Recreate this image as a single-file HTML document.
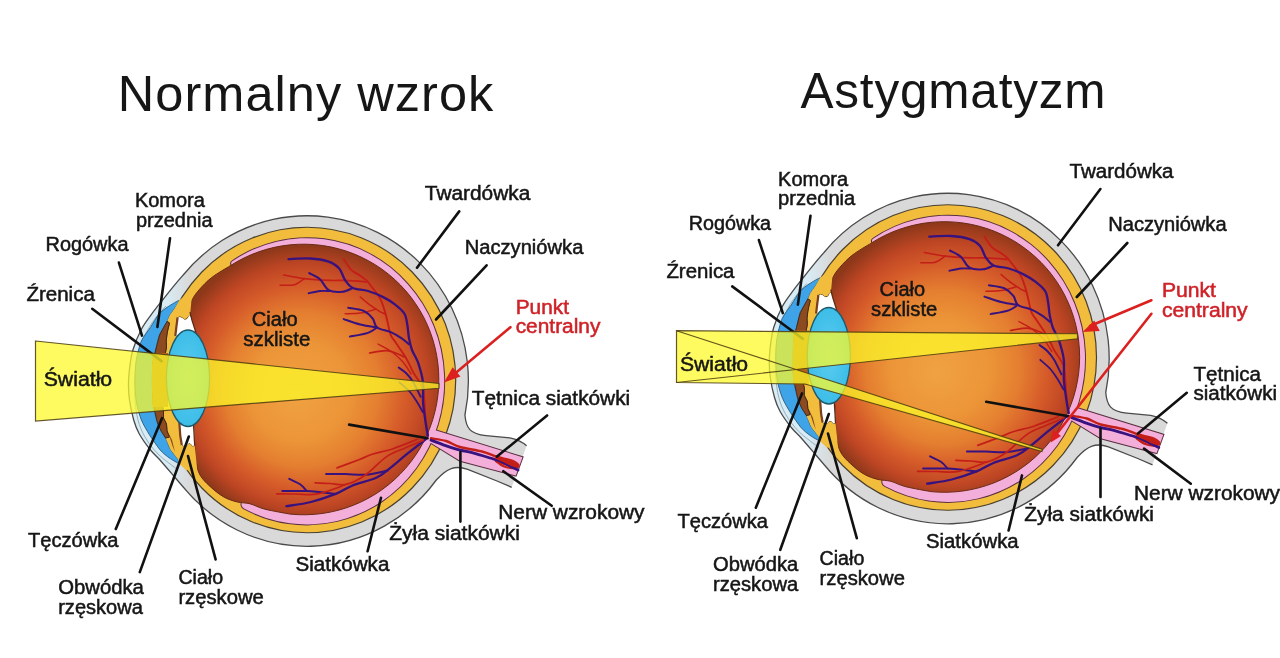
<!DOCTYPE html>
<html><head><meta charset="utf-8">
<style>
html,body{margin:0;padding:0;background:#fff;width:1280px;height:658px;overflow:hidden}
svg{display:block;will-change:transform}
text{font-family:"Liberation Sans",sans-serif;fill:#161616;stroke:#161616;stroke-width:0.5px}
</style></head><body>
<svg width="1280" height="658" viewBox="0 0 1280 658">
<defs>
<radialGradient id="vit" gradientUnits="userSpaceOnUse" cx="308" cy="385" r="140" fx="295" fy="395">
<stop offset="0" stop-color="#f0a242"/>
<stop offset="0.35" stop-color="#ec9538"/>
<stop offset="0.55" stop-color="#e47e30"/>
<stop offset="0.72" stop-color="#d65c2a"/>
<stop offset="0.87" stop-color="#bf4624"/>
<stop offset="1" stop-color="#8e381a"/>
</radialGradient>
<linearGradient id="corneag" gradientUnits="userSpaceOnUse" x1="190" y1="0" x2="166" y2="0"><stop offset="0" stop-color="#d9d9d9"/><stop offset="1" stop-color="#d8ecf5"/></linearGradient>
<radialGradient id="lensg" gradientUnits="objectBoundingBox" cx="0.5" cy="0.5" r="0.5">
<stop offset="0" stop-color="#5ccdf0"/>
<stop offset="1" stop-color="#3cbde8"/>
</radialGradient>

<g id="eye">
<path d="M511.7 487.3 L497 481 L467.7 469.3 C455 465 447 468 436.3 480 A161.4 165.3 0 0 1 183.2 487 C181.4 484.9 176.2 478.8 172.4 474.3 C168.6 469.9 163.8 464.4 160.2 460.3 C156.5 456.2 154.0 454.4 150.5 450.0 C147.0 445.6 142.0 438.7 139.2 433.7 C136.4 428.7 135.3 425.6 133.7 420.0 C132.1 414.4 130.4 406.2 129.5 400.0 C128.6 393.8 128.4 388.8 128.5 383.0 C128.6 377.2 129.3 370.5 130.0 365.0 C130.7 359.5 131.0 356.0 132.9 350.0 C134.8 344.0 138.2 335.2 141.4 329.2 C144.6 323.2 148.3 318.7 151.8 313.9 C155.3 309.1 158.4 305.3 162.2 300.5 C165.9 295.7 170.8 289.6 174.3 285.3 C177.8 281.1 181.7 276.7 183.2 275.0 A161.4 165.3 0 0 1 464.95 415 C466 428 470 434 486 435.6 L509.8 437.9 Q520 440 526.6 445.8 Z" fill="url(#corneag)"/>
<path d="M511.7 487.3 L497 481 L467.7 469.3 C455 465 447 468 436.3 480 A161.4 165.3 0 0 1 183.2 487 C181.4 484.9 176.2 478.8 172.4 474.3 C168.6 469.9 163.8 464.4 160.2 460.3 C156.5 456.2 154.0 454.4 150.5 450.0 C147.0 445.6 142.0 438.7 139.2 433.7 C136.4 428.7 135.3 425.6 133.7 420.0 C132.1 414.4 130.4 406.2 129.5 400.0 C128.6 393.8 128.4 388.8 128.5 383.0 C128.6 377.2 129.3 370.5 130.0 365.0 C130.7 359.5 131.0 356.0 132.9 350.0 C134.8 344.0 138.2 335.2 141.4 329.2 C144.6 323.2 148.3 318.7 151.8 313.9 C155.3 309.1 158.4 305.3 162.2 300.5 C165.9 295.7 170.8 289.6 174.3 285.3 C177.8 281.1 181.7 276.7 183.2 275.0 A161.4 165.3 0 0 1 464.95 415 C466 428 470 434 486 435.6 L509.8 437.9 Q520 440 526.6 445.8" fill="none" stroke="#4a4a4a" stroke-width="1.3"/>
<path d="M178.0 470.0 C174.7 467.3 163.5 459.5 158.0 454.0 C152.5 448.5 148.3 442.7 145.0 437.0 C141.7 431.3 139.7 426.2 138.0 420.0 C136.3 413.8 135.6 406.2 135.0 400.0 C134.4 393.8 134.3 388.8 134.5 383.0 C134.7 377.2 135.2 370.5 136.0 365.0 C136.8 359.5 137.2 355.7 139.0 350.0 C140.8 344.3 144.0 336.7 147.0 331.0 C150.0 325.3 153.8 320.2 157.0 316.0 C160.2 311.8 164.5 307.7 166.0 306.0" fill="none" stroke="#8c9ca4" stroke-width="0.8"/>
<ellipse cx="307" cy="380" rx="148.7" ry="152.75" fill="#f2bd3c" stroke="#4a4030" stroke-width="1.2"/>
<path d="M232.68 261.01 A137.2 143.1 0 1 1 244.07 508.46 A4.80 4.80 0 0 1 248.33 499.86 L252.06 492.33 A119.19999999999999 125.1 0 1 0 242.14 276.33 L235.83 266.12 A3.00 3.00 0 0 1 232.68 261.01 Z" fill="#f4aeda" stroke="#5a3040" stroke-width="2"/>
<path d="M415 424 L522.5 457.2 L515.8 475.5 L460 460.7 L431 443 L415 438 Z" fill="#f4aeda" stroke="#5a3040" stroke-width="2"/>
<path d="M232.68 261.01 A137.2 143.1 0 1 1 244.07 508.46 A4.80 4.80 0 0 1 248.33 499.86 L252.06 492.33 A119.19999999999999 125.1 0 1 0 242.14 276.33 L235.83 266.12 A3.00 3.00 0 0 1 232.68 261.01 Z" fill="#f4aeda"/>
<path d="M415 424 L522.5 457.2 L515.8 475.5 L460 460.7 L431 443 L415 438 Z" fill="#f4aeda"/>
<path d="M230 265.9 A135.3 135.3 0 1 1 290 514.1 C285.8 513.3 271.7 510.9 265.0 509.2 C258.3 507.5 254.6 505.0 250.0 503.8 C245.4 502.6 241.8 503.1 237.4 502.0 C233.0 500.9 228.3 499.5 223.7 496.9 C219.1 494.3 213.9 490.0 210.0 486.4 C206.1 482.8 202.3 479.1 200.0 475.0 C197.7 470.9 197.1 466.9 196.2 462.0 C195.3 457.1 195.1 451.7 194.7 445.6 C194.3 439.5 194.6 433.1 193.8 425.5 C193.0 417.9 190.9 407.6 190.0 400.0 C189.1 392.4 188.6 388.3 188.5 380.0 C188.4 371.7 189.0 358.0 189.5 350.0 C190.0 342.0 191.3 336.8 191.5 332.0 C191.7 327.2 190.8 324.5 190.5 321.1 C190.2 317.7 189.5 315.0 189.7 311.6 C189.9 308.2 190.1 304.2 191.7 300.6 C193.3 297.0 195.9 293.5 199.2 289.7 C202.5 285.9 206.5 281.6 211.6 277.6 C216.7 273.6 226.9 267.8 230.0 265.9 Z" fill="url(#vit)" stroke="#6a2a14" stroke-width="1"/>
<path d="M427.9 435.7 C427.5 432.5 426.2 424.0 425.4 416.3 C424.6 408.6 425.0 396.8 423.0 389.5 C421.0 382.2 416.1 377.8 413.3 372.5 C410.5 367.2 408.9 362.8 406.0 357.9 C403.1 353.0 398.7 347.1 396.2 343.3 C393.7 339.5 392.2 338.5 390.8 335.1 C389.4 331.7 388.8 327.1 387.8 323.0 C386.8 318.9 386.0 314.9 384.7 310.8 C383.4 306.7 382.2 302.4 380.2 298.6 C378.2 294.8 374.9 291.0 372.6 288.0 C370.3 285.0 368.5 282.4 366.5 280.4 C364.5 278.4 362.9 277.6 360.4 275.8 C357.9 274.0 354.1 272.6 351.3 269.8 C348.5 267.0 345.0 260.9 343.7 259.1" fill="none" stroke="#c41e18" stroke-width="1.9" stroke-linecap="round" stroke-linejoin="round"/>
<path d="M283.6 275.0 C287.1 275.6 296.6 277.7 304.3 278.6 C312.0 279.5 323.2 280.1 330.0 280.4 C336.8 280.7 339.1 280.1 345.2 280.4 C351.3 280.6 362.9 281.6 366.5 281.9" fill="none" stroke="#c41e18" stroke-width="1.7" stroke-linecap="round" stroke-linejoin="round"/>
<path d="M280.0 285.3 C282.4 285.2 290.6 285.8 294.6 284.7 C298.7 283.6 302.7 279.6 304.3 278.6" fill="none" stroke="#c41e18" stroke-width="1.5" stroke-linecap="round" stroke-linejoin="round"/>
<path d="M360.4 297.1 C361.9 298.4 366.5 302.4 369.5 304.7 C372.5 307.0 376.1 309.2 378.6 310.8 C381.1 312.4 383.7 313.5 384.7 314.0" fill="none" stroke="#c41e18" stroke-width="1.6" stroke-linecap="round" stroke-linejoin="round"/>
<path d="M345.2 313.8 C347.7 313.7 355.3 313.9 360.4 313.1 C365.5 312.4 373.1 309.9 375.6 309.3" fill="none" stroke="#c41e18" stroke-width="1.5" stroke-linecap="round" stroke-linejoin="round"/>
<path d="M369.5 353.0 C372.3 352.6 381.6 350.4 386.5 350.6 C391.4 350.8 395.8 353.1 398.7 354.2 C401.6 355.3 403.1 356.5 404.0 357.0" fill="none" stroke="#c41e18" stroke-width="1.6" stroke-linecap="round" stroke-linejoin="round"/>
<path d="M288.5 259.1 C292.1 259.0 303.7 258.1 310.4 258.5 C317.1 258.9 323.9 260.0 328.7 261.6 C333.5 263.2 336.4 265.1 339.1 268.2 C341.9 271.3 342.9 277.1 345.2 280.4 C347.5 283.7 349.0 286.2 352.8 288.0 C356.6 289.8 362.9 289.5 368.0 291.0 C373.1 292.5 378.6 294.8 383.2 297.1 C387.8 299.4 391.8 301.9 395.3 304.7 C398.9 307.5 402.5 310.2 404.5 313.8 C406.5 317.4 406.8 321.9 407.5 326.0 C408.2 330.1 408.2 334.1 409.0 338.1 C409.8 342.1 410.5 345.9 412.0 350.0 C413.5 354.1 416.3 357.3 418.1 362.7 C419.9 368.1 422.2 375.7 423.0 382.2 C423.8 388.7 422.6 395.2 423.0 401.7 C423.4 408.2 424.6 415.4 425.4 421.1 C426.2 426.8 427.5 433.3 427.9 435.7" fill="none" stroke="#38127e" stroke-width="2.3" stroke-linecap="round" stroke-linejoin="round"/>
<path d="M309.2 273.1 C311.0 274.1 316.8 276.4 320.0 279.2 C323.2 282.0 325.0 288.0 328.7 290.1 C332.4 292.2 338.2 292.2 342.2 291.8 C346.2 291.4 351.0 288.6 352.8 288.0" fill="none" stroke="#38127e" stroke-width="2.1" stroke-linecap="round" stroke-linejoin="round"/>
<path d="M308.6 293.2 C310.5 292.8 316.4 291.4 320.0 291.0 C323.6 290.6 328.3 291.0 330.0 291.0" fill="none" stroke="#38127e" stroke-width="1.9" stroke-linecap="round" stroke-linejoin="round"/>
<path d="M348.2 307.8 C350.7 308.3 359.3 309.0 363.4 310.8 C367.5 312.6 370.3 315.6 372.6 318.4 C374.9 321.2 374.1 325.2 377.1 327.5 C380.1 329.8 386.8 330.3 390.8 332.1 C394.9 333.9 398.4 336.1 401.4 338.1 C404.4 340.1 407.7 343.2 409.0 344.2" fill="none" stroke="#38127e" stroke-width="2.1" stroke-linecap="round" stroke-linejoin="round"/>
<path d="M343.7 319.1 C346.5 320.0 354.8 323.1 360.4 324.5 C366.0 325.9 374.3 327.0 377.1 327.5" fill="none" stroke="#38127e" stroke-width="1.9" stroke-linecap="round" stroke-linejoin="round"/>
<path d="M349.8 336.6 C352.8 336.0 363.4 334.3 368.0 332.8 C372.6 331.3 375.6 328.4 377.1 327.5" fill="none" stroke="#38127e" stroke-width="1.9" stroke-linecap="round" stroke-linejoin="round"/>
<path d="M398.7 367.6 C399.9 368.5 403.6 370.6 406.0 373.0 C408.4 375.4 410.9 378.2 413.3 382.2 C415.7 386.2 419.4 394.4 420.6 396.8" fill="none" stroke="#38127e" stroke-width="1.9" stroke-linecap="round" stroke-linejoin="round"/>
<path d="M399.5 382.3 C401.2 383.9 407.1 388.7 410.0 392.0 C412.9 395.3 414.9 398.7 417.0 402.0 C419.1 405.3 421.8 410.3 422.8 412.0" fill="none" stroke="#38127e" stroke-width="1.8" stroke-linecap="round" stroke-linejoin="round"/>
<path d="M378.0 344.0 C380.3 345.3 387.8 349.0 392.0 352.0 C396.2 355.0 399.8 358.3 403.0 362.0 C406.2 365.7 409.7 372.0 411.0 374.0" fill="none" stroke="#c41e18" stroke-width="1.4" stroke-linecap="round" stroke-linejoin="round"/>
<path d="M426.0 439.2 C422.8 441.7 412.7 449.4 406.8 454.2 C400.9 459.0 395.4 464.0 390.4 467.9 C385.4 471.8 383.1 474.5 376.7 477.5 C370.3 480.5 358.9 483.0 352.1 485.7 C345.3 488.4 342.6 491.2 335.7 493.9 C328.8 496.6 319.2 499.9 311.0 502.0 C302.8 504.1 290.5 505.5 286.4 506.2" fill="none" stroke="#38127e" stroke-width="2.3" stroke-linecap="round" stroke-linejoin="round"/>
<path d="M387.6 470.6 C384.0 471.3 372.9 474.1 365.8 474.7 C358.7 475.3 351.8 474.1 345.2 474.0 C338.6 473.9 329.3 474.0 326.1 474.0" fill="none" stroke="#38127e" stroke-width="2.0" stroke-linecap="round" stroke-linejoin="round"/>
<path d="M335.7 493.9 C330.9 493.4 315.8 491.6 306.9 491.1 C298.0 490.6 286.4 491.1 282.3 491.1" fill="none" stroke="#38127e" stroke-width="2.0" stroke-linecap="round" stroke-linejoin="round"/>
<path d="M306.9 491.1 C305.8 490.0 303.1 486.4 300.1 484.3 C297.2 482.2 291.0 479.7 289.2 478.8" fill="none" stroke="#38127e" stroke-width="1.9" stroke-linecap="round" stroke-linejoin="round"/>
<path d="M417.7 439.2 C413.6 440.8 400.6 446.2 393.1 448.7 C385.7 451.2 378.7 452.2 373.0 454.0 C367.3 455.8 364.9 457.4 358.9 459.7 C352.9 462.0 340.6 466.5 337.0 467.9" fill="none" stroke="#c41e18" stroke-width="1.7" stroke-linecap="round" stroke-linejoin="round"/>
<path d="M423.2 440.5 C420.2 441.8 411.1 445.3 405.0 448.0 C398.9 450.7 392.8 452.4 386.3 456.9 C379.8 461.3 372.4 470.1 365.8 474.7 C359.2 479.3 352.6 482.8 346.6 484.3 C340.6 485.8 335.2 483.7 330.0 483.5 C324.8 483.3 317.6 483.0 315.1 482.9" fill="none" stroke="#c41e18" stroke-width="1.7" stroke-linecap="round" stroke-linejoin="round"/>
<path d="M346.6 484.3 C341.8 485.9 326.3 492.3 317.9 493.9 C309.5 495.5 302.9 494.0 296.0 494.0 C289.1 494.0 280.0 493.9 276.8 493.9" fill="none" stroke="#c41e18" stroke-width="1.7" stroke-linecap="round" stroke-linejoin="round"/>
<path d="M496 458 C505 458 513 460 518.5 465.5 C513 469 503 466 496 461 Z" fill="#c41e18"/>
<path d="M431.0 438.3 C433.5 438.8 441.2 439.6 446.0 441.0 C450.8 442.4 454.0 445.2 460.0 447.0 C466.0 448.8 476.0 449.9 482.0 451.5 C488.0 453.1 492.2 455.2 496.0 456.5 C499.8 457.8 502.2 458.2 505.0 459.0 C507.8 459.8 510.8 459.9 513.0 461.0 C515.2 462.1 518.5 464.3 518.5 465.5 C518.5 466.7 515.6 467.9 513.0 468.0 C510.4 468.1 505.8 467.2 503.0 466.0 C500.2 464.8 497.2 461.8 496.0 461.0" fill="none" stroke="#c41e18" stroke-width="2.4" stroke-linecap="round" stroke-linejoin="round"/>
<path d="M431.0 440.2 C433.4 441.1 440.7 443.9 445.6 445.6 C450.5 447.3 455.6 449.0 460.2 450.2 C464.8 451.4 468.0 451.6 473.0 452.9 C478.0 454.2 485.5 456.6 490.0 458.0 C494.5 459.4 496.8 459.7 500.0 461.0 C503.2 462.3 506.4 464.2 509.4 465.7 C512.4 467.2 516.6 469.3 518.0 470.0" fill="none" stroke="#38127e" stroke-width="2.8" stroke-linecap="round" stroke-linejoin="round"/>
<path d="M496.0 458.0 C497.5 458.7 502.3 460.8 505.0 462.0 C507.7 463.2 509.8 464.7 512.0 465.5 C514.2 466.3 517.0 466.8 518.0 467.0" fill="none" stroke="#c41e18" stroke-width="1.8" stroke-linecap="round" stroke-linejoin="round"/>
<path d="M179.2 300.5 C178.4 300.2 170.9 304.8 168.2 306.6 C165.5 308.4 161.5 311.1 159.1 313.9 C156.7 316.7 152.8 323.9 150.4 327.5 C148.0 331.1 143.2 336.6 141.3 341.2 C139.4 345.8 136.8 356.4 136.0 362.0 C135.2 367.6 134.9 377.5 135.0 383.0 C135.1 388.5 135.6 398.1 136.5 403.0 C137.4 407.9 139.7 415.7 141.4 420.0 C143.1 424.3 147.1 431.0 149.6 435.0 C152.1 439.0 157.6 446.9 160.2 450.0 C162.8 453.1 166.8 456.1 169.3 457.9 C171.8 459.7 177.9 463.3 179.0 463.4 C180.1 463.5 178.9 460.9 177.8 459.0 C176.7 457.1 172.1 452.3 170.5 449.5 C168.9 446.7 167.3 441.5 165.6 438.0 C163.9 434.5 159.1 427.4 157.5 423.0 C155.9 418.6 154.2 410.3 153.5 405.0 C152.8 399.7 152.3 388.7 152.2 383.0 C152.1 377.3 152.5 366.4 153.0 362.0 C153.5 357.6 154.8 353.6 155.7 350.0 C156.6 346.4 158.0 338.9 159.5 335.1 C161.0 331.3 165.7 324.1 167.1 321.4 C168.5 318.7 169.0 316.7 170.0 315.0 C171.0 313.3 173.1 310.9 174.3 309.0 C175.5 307.1 180.0 300.8 179.2 300.5 Z" fill="#3fa3e8" stroke="#2d5a7a" stroke-width="0.9"/>
<g><path d="M152 382 L152.5 362 L155.7 350 L162 350 L168 360 L170 382 Z" fill="#b06a1c"/><path d="M179.2 300.5 L174.3 309 L170 315 L167.1 321.4 L169.5 323 L168 329 L167 334 L166.2 341 L166.5 347 L165 355 L162 366 L172 366 L175.5 336 L177.3 318 L179.6 316.9 Q182 317 184.2 319.6 Q187.5 320 188.8 316 L190 315 L190.5 311 L191.5 300 L195 292 L189 292 Z" fill="#f2bd3c"/><path d="M162 366 L165 355 L166.5 347 L166.2 341 L167 334 L168 329 L169.5 323 L167.1 321.4 M175.5 336 L177.3 318 L179.6 316.9 Q182 317 184.2 319.6 Q187.5 320 188.8 316 L190 315" fill="none" stroke="#3a2a18" stroke-width="0.9"/><path d="M167.1 321.4 L169.5 323 L168 329 L167 334 L166.2 341 L166.5 347 L165 355 L162 364 L152.5 364 L153 362 L155.7 350 L159.5 335.1 Z" fill="#8c4a20" stroke="#3a2010" stroke-width="0.8"/><path d="M177.3 318 L179.6 316.9 Q182 317 184.2 319.6 Q187.5 320 188.8 316 L190 315 L191.9 320 L197 336 L175.5 336 Z" fill="#fff"/><path d="M177.6 317.5 L176.5 326 L175.3 336" fill="none" stroke="#7a4020" stroke-width="2.2"/><path d="M190 312 L191.9 320 L197 336" fill="none" stroke="#5a2a14" stroke-width="1.2"/></g>
<g><path d="M152 382 L152.2 396 L160.5 396 L168 392 L170 382 Z" fill="#b06a1c"/><path d="M160.5 396 L161 402 L163.5 410 L163.5 418 L166.5 424 L167 431 L169.5 437 L165.6 438 L170.5 449.5 L177.8 459 L179 463.4 L186 470 L197 471 L196.5 462 L194.7 445.6 L192.5 446 Q190.5 442.5 188.5 443.5 Q186.5 447 184 446 L182 445 L180.5 436 L179.5 426 L172 410 L170 396 Z" fill="#f2bd3c"/><path d="M160.5 396 L161 402 L163.5 410 L163.5 418 L166.5 424 L167 431 L169.5 437 L165.6 438 M179.5 426 L180.5 436 L182 445 L184 446 Q186.5 447 188.5 443.5 Q190.5 442.5 192.5 446 L194.7 445.6" fill="none" stroke="#3a2a18" stroke-width="0.9"/><path d="M152.2 394 L153.5 405 L155.7 415 L157.5 423 L161 431 L165.6 438 L169.5 437 L167 431 L166.5 424 L163.5 418 L163.5 410 L161 402 L160.5 394 Z" fill="#8c4a20" stroke="#3a2010" stroke-width="0.8"/><path d="M168 432 L172 440 L175 452 L172.5 446 Z" fill="#8c4a20"/><path d="M179.5 422 L194 422 L194.7 445.6 L192.5 446 Q190.5 442.5 188.5 443.5 Q186.5 447 184 446 L182 445 L180.5 436 Z" fill="#fff"/><path d="M179.3 422 L180.3 436 L181.8 445" fill="none" stroke="#7a4020" stroke-width="2.2"/><path d="M193.5 425 L194.7 445.6" fill="none" stroke="#5a2a14" stroke-width="1.2"/></g>
<path d="M152.6 353 L168 353 L168 407 L152.4 407 Q151.8 380 152.6 353 Z" fill="#b3641a"/>
<ellipse cx="188" cy="378.25" rx="21.6" ry="48.25" fill="url(#lensg)" stroke="#1f5a6a" stroke-width="1.3"/>
</g>
</defs>
<rect width="1280" height="658" fill="#fff"/>
<text x="117.8" y="111" font-size="50.5" textLength="375.5" lengthAdjust="spacing" style="stroke-width:0">Normalny wzrok</text>
<text x="800.5" y="108" font-size="49.5" textLength="305" lengthAdjust="spacing" style="stroke-width:0">Astygmatyzm</text>
<use href="#eye"/>
<use href="#eye" transform="translate(640.8,-22.5)"/>
<line x1="170" y1="238.2" x2="157.4" y2="327" stroke="#111" stroke-width="2.6" stroke-linecap="round"/>
<line x1="118.9" y1="262.6" x2="142" y2="335.6" stroke="#111" stroke-width="2.6" stroke-linecap="round"/>
<line x1="92.2" y1="308.8" x2="161.5" y2="361.1" stroke="#111" stroke-width="2.6" stroke-linecap="round"/>
<line x1="115.8" y1="529" x2="162" y2="418.2" stroke="#111" stroke-width="2.6" stroke-linecap="round"/>
<line x1="139.8" y1="572.1" x2="188.8" y2="436.5" stroke="#111" stroke-width="2.6" stroke-linecap="round"/>
<line x1="215.6" y1="559.4" x2="188" y2="456" stroke="#111" stroke-width="2.6" stroke-linecap="round"/>
<line x1="349.1" y1="424.6" x2="427.6" y2="438.3" stroke="#111" stroke-width="2.6" stroke-linecap="round"/>
<line x1="459.2" y1="211.4" x2="417" y2="267.7" stroke="#111" stroke-width="2.6" stroke-linecap="round"/>
<line x1="486.6" y1="265.3" x2="436" y2="319.5" stroke="#111" stroke-width="2.6" stroke-linecap="round"/>
<line x1="547.1" y1="415.5" x2="497" y2="456.6" stroke="#111" stroke-width="2.6" stroke-linecap="round"/>
<line x1="551.7" y1="505.8" x2="503.3" y2="471.2" stroke="#111" stroke-width="2.6" stroke-linecap="round"/>
<line x1="460.4" y1="452" x2="460.4" y2="521.6" stroke="#111" stroke-width="2.6" stroke-linecap="round"/>
<line x1="367.6" y1="551.3" x2="381" y2="497.8" stroke="#111" stroke-width="2.6" stroke-linecap="round"/>
<polygon points="35.5,341 439,383.5 439,388.3 35.5,421" fill="rgb(252,250,40)" fill-opacity="0.74" stroke="#4a3a10" stroke-width="1.2" stroke-opacity="0.85"/>
<line x1="510.4" y1="327.2" x2="452" y2="376" stroke="#dc2020" stroke-width="2.6" stroke-linecap="round"/>
<polygon points="444,382.5 452.6,367.3 460.5,376.4" fill="#dc2020"/>
<text x="134.9" y="207.3" font-size="19.5" textLength="70" lengthAdjust="spacingAndGlyphs">Komora</text>
<text x="136" y="226.7" font-size="19.5" textLength="76.6" lengthAdjust="spacingAndGlyphs">przednia</text>
<text x="45.5" y="251.3" font-size="19.5" textLength="83" lengthAdjust="spacingAndGlyphs">Rogówka</text>
<text x="26.4" y="301.3" font-size="19.5" textLength="68.5" lengthAdjust="spacingAndGlyphs">Źrenica</text>
<text x="43.7" y="386" font-size="19.5" textLength="68.5" lengthAdjust="spacingAndGlyphs">Światło</text>
<text x="28.1" y="547.1" font-size="19.5" textLength="90.4" lengthAdjust="spacingAndGlyphs">Tęczówka</text>
<text x="58.2" y="593.9" font-size="19.5" textLength="85.7" lengthAdjust="spacingAndGlyphs">Obwódka</text>
<text x="58.2" y="614" font-size="19.5" textLength="84.7" lengthAdjust="spacingAndGlyphs">rzęskowa</text>
<text x="178.4" y="583.9" font-size="19.5" textLength="44.7" lengthAdjust="spacingAndGlyphs">Ciało</text>
<text x="178.4" y="603.6" font-size="19.5" textLength="85.4" lengthAdjust="spacingAndGlyphs">rzęskowe</text>
<text x="295.4" y="571.4" font-size="19.5" textLength="94" lengthAdjust="spacingAndGlyphs">Siatkówka</text>
<text x="389.3" y="540.3" font-size="19.5" textLength="130.6" lengthAdjust="spacingAndGlyphs">Żyła siatkówki</text>
<text x="498.2" y="518.6" font-size="19.5" textLength="146.4" lengthAdjust="spacingAndGlyphs">Nerw wzrokowy</text>
<text x="471.7" y="404.5" font-size="19.5" textLength="158.5" lengthAdjust="spacingAndGlyphs">Tętnica siatkówki</text>
<text x="515.7" y="314" font-size="19.5" textLength="53.3" lengthAdjust="spacingAndGlyphs" style="fill:#cf2228;stroke:#cf2228">Punkt</text>
<text x="515.7" y="333.2" font-size="19.5" textLength="84.7" lengthAdjust="spacingAndGlyphs" style="fill:#cf2228;stroke:#cf2228">centralny</text>
<text x="424.8" y="199.7" font-size="19.5" textLength="105.5" lengthAdjust="spacingAndGlyphs">Twardówka</text>
<text x="464.7" y="254.4" font-size="19.5" textLength="118.7" lengthAdjust="spacingAndGlyphs">Naczyniówka</text>
<text x="251.8" y="326.2" font-size="19.5" textLength="45.8" lengthAdjust="spacingAndGlyphs">Ciało</text>
<text x="243.3" y="345.9" font-size="19.5" textLength="67" lengthAdjust="spacingAndGlyphs">szkliste</text>
<line x1="810.5" y1="215.8" x2="797.9" y2="304.6" stroke="#111" stroke-width="2.6" stroke-linecap="round"/>
<line x1="758.9" y1="240.1" x2="782.8" y2="313.1" stroke="#111" stroke-width="2.6" stroke-linecap="round"/>
<line x1="732.2" y1="286.4" x2="802.7" y2="338.7" stroke="#111" stroke-width="2.6" stroke-linecap="round"/>
<line x1="755.8" y1="507.7" x2="802" y2="393.4" stroke="#111" stroke-width="2.6" stroke-linecap="round"/>
<line x1="780.3" y1="549.8" x2="828.8" y2="414" stroke="#111" stroke-width="2.6" stroke-linecap="round"/>
<line x1="856.8" y1="538.2" x2="828" y2="433.5" stroke="#111" stroke-width="2.6" stroke-linecap="round"/>
<line x1="986.2" y1="401.8" x2="1068.8" y2="416.2" stroke="#111" stroke-width="2.6" stroke-linecap="round"/>
<line x1="1100.4" y1="189" x2="1058" y2="245.3" stroke="#111" stroke-width="2.6" stroke-linecap="round"/>
<line x1="1127.3" y1="243" x2="1076.8" y2="297" stroke="#111" stroke-width="2.6" stroke-linecap="round"/>
<line x1="1186.8" y1="392.8" x2="1138" y2="433.6" stroke="#111" stroke-width="2.6" stroke-linecap="round"/>
<line x1="1190.8" y1="483.7" x2="1144" y2="448.6" stroke="#111" stroke-width="2.6" stroke-linecap="round"/>
<line x1="1100.5" y1="497" x2="1100.5" y2="428.6" stroke="#111" stroke-width="2.6" stroke-linecap="round"/>
<line x1="1008.6" y1="530.5" x2="1022" y2="475.4" stroke="#111" stroke-width="2.6" stroke-linecap="round"/>
<polygon points="676.5,330.7 1077.5,333.75 1077.5,338.75 796,369.5 1042,449.3 1042,451.5 805,384 676.5,382.5" fill="rgb(252,250,40)" fill-opacity="0.74" stroke="#4a3a10" stroke-width="1.2" stroke-opacity="0.85"/>
<polyline points="676.5,382.5 796,369.5 676.5,330.7" fill="none" stroke="#4a3a10" stroke-width="1.2" stroke-opacity="0.85"/>
<line x1="1151.4" y1="300.3" x2="1090" y2="326" stroke="#dc2020" stroke-width="2.6" stroke-linecap="round"/>
<polygon points="1082.5,332 1094.3,320.6 1099.8,331" fill="#dc2020"/>
<line x1="1151.4" y1="313.8" x2="1055" y2="436" stroke="#dc2020" stroke-width="2.6" stroke-linecap="round"/>
<polygon points="1050.7,442.5 1053,429.5 1061,436" fill="#dc2020"/>
<text x="778.1" y="185.5" font-size="19.5" textLength="70" lengthAdjust="spacingAndGlyphs">Komora</text>
<text x="778.1" y="205.1" font-size="19.5" textLength="77.2" lengthAdjust="spacingAndGlyphs">przednia</text>
<text x="688.7" y="229.8" font-size="19.5" textLength="82.3" lengthAdjust="spacingAndGlyphs">Rogówka</text>
<text x="666.4" y="277.7" font-size="19.5" textLength="68.1" lengthAdjust="spacingAndGlyphs">Źrenica</text>
<text x="680" y="371.3" font-size="19.5" textLength="68.1" lengthAdjust="spacingAndGlyphs">Światło</text>
<text x="677.6" y="528.3" font-size="19.5" textLength="90.4" lengthAdjust="spacingAndGlyphs">Tęczówka</text>
<text x="713" y="571.2" font-size="19.5" textLength="85.2" lengthAdjust="spacingAndGlyphs">Obwódka</text>
<text x="713" y="590.8" font-size="19.5" textLength="85.2" lengthAdjust="spacingAndGlyphs">rzęskowa</text>
<text x="819.6" y="565.3" font-size="19.5" textLength="44.7" lengthAdjust="spacingAndGlyphs">Ciało</text>
<text x="819.6" y="584.9" font-size="19.5" textLength="85.3" lengthAdjust="spacingAndGlyphs">rzęskowe</text>
<text x="926" y="547.9" font-size="19.5" textLength="92.6" lengthAdjust="spacingAndGlyphs">Siatkówka</text>
<text x="1024.3" y="520.5" font-size="19.5" textLength="129.7" lengthAdjust="spacingAndGlyphs">Żyła siatkówki</text>
<text x="1134" y="499.8" font-size="19.5" textLength="146" lengthAdjust="spacingAndGlyphs">Nerw wzrokowy</text>
<text x="1193.5" y="380.8" font-size="19.5" textLength="67.5" lengthAdjust="spacingAndGlyphs">Tętnica</text>
<text x="1193.5" y="400.4" font-size="19.5" textLength="83.5" lengthAdjust="spacingAndGlyphs">siatkówki</text>
<text x="1161.9" y="296.6" font-size="19.5" textLength="54" lengthAdjust="spacingAndGlyphs" style="fill:#cf2228;stroke:#cf2228">Punkt</text>
<text x="1161.9" y="316.9" font-size="19.5" textLength="85.8" lengthAdjust="spacingAndGlyphs" style="fill:#cf2228;stroke:#cf2228">centralny</text>
<text x="1069.5" y="178" font-size="19.5" textLength="104" lengthAdjust="spacingAndGlyphs">Twardówka</text>
<text x="1108.2" y="230.8" font-size="19.5" textLength="118.4" lengthAdjust="spacingAndGlyphs">Naczyniówka</text>
<text x="879.6" y="296.1" font-size="19.5" textLength="45.5" lengthAdjust="spacingAndGlyphs">Ciało</text>
<text x="871.1" y="316.3" font-size="19.5" textLength="66.2" lengthAdjust="spacingAndGlyphs">szkliste</text>
</svg>
</body></html>
